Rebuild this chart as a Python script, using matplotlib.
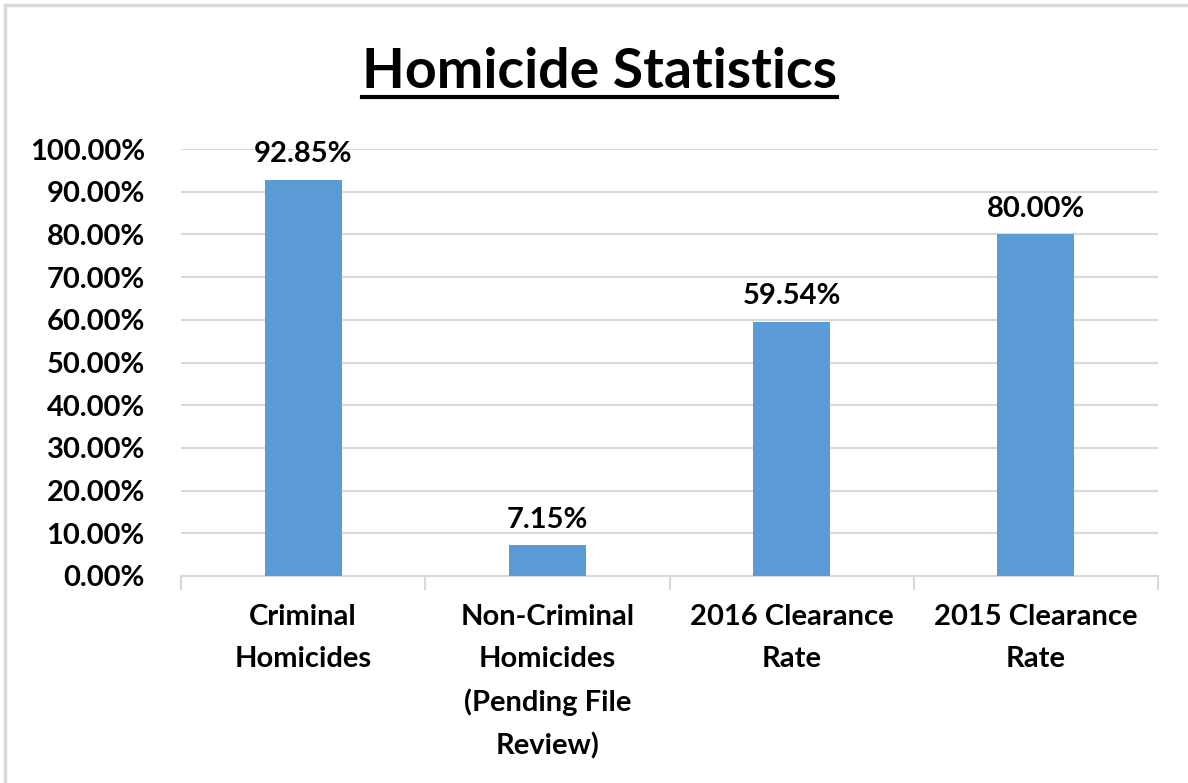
import numpy as np
import matplotlib
matplotlib.use("Agg")
import matplotlib.pyplot as plt
from matplotlib.lines import Line2D

categories = ["Criminal\nHomicides",
              "Non-Criminal\nHomicides\n(Pending File\nReview)",
              "2016 Clearance\nRate",
              "2015 Clearance\nRate"]
values = [92.85, 7.15, 59.54, 80.00]
yticks = [0, 10, 20, 30, 40, 50, 60, 70, 80, 90, 100]

plt.rcParams['font.family'] = ['Lato', 'DejaVu Sans']
plt.rcParams['font.weight'] = 'bold'

fig = plt.figure(figsize=(11.88, 7.83), dpi=100)
ax = fig.add_axes([181/1188, 1 - 576/783, (1158 - 181)/1188, (576 - 149)/783])

x = np.arange(len(categories))
bars = ax.bar(x, values, width=0.315, color='#5B9BD5', zorder=3)

for xi, v in zip(x, values):
    ax.text(xi, v + 3.0, f"{v:.2f}%", ha='center', va='bottom',
            fontsize=21, fontweight='bold', color='black')

ax.set_xlim(-0.5, len(categories) - 0.5)
ax.set_ylim(0, 100)
ax.set_yticks(yticks)
ax.set_yticklabels([f"{t:.2f}%" for t in yticks], fontsize=21, fontweight='bold')
ax.yaxis.grid(True, color='#D9D9D9', linewidth=1.5, zorder=0)
ax.tick_params(axis='y', length=0, pad=26)

ax.set_xticks(x)
ax.set_xticklabels(categories, fontsize=21, fontweight='bold', linespacing=1.75)
ax.set_xticks(np.arange(len(categories) + 1) - 0.5, minor=True)
ax.tick_params(axis='x', which='major', length=0, pad=20)
ax.tick_params(axis='x', which='minor', length=10, width=1.5, color='#D9D9D9')

for s in ['top', 'right', 'left']:
    ax.spines[s].set_visible(False)
ax.spines['bottom'].set_color('#D9D9D9')
ax.spines['bottom'].set_linewidth(1.5)

title = fig.text(599/1188, 1 - 72/783, "Homicide Statistics", ha='center', va='center',
                 fontsize=40, fontweight='bold')
# underline under title
fig.canvas.draw()
bb = title.get_window_extent()
fig.add_artist(Line2D([bb.x0 / 1188, bb.x1 / 1188], [(783 - 97) / 783] * 2,
                      color='black', linewidth=3))

# chart border (left and top edges visible)
fig.add_artist(Line2D([5/1188, 5/1188], [0, 1 - 5/783], color='#D9D9D9', linewidth=2.5))
fig.add_artist(Line2D([5/1188, 1], [1 - 5/783, 1 - 5/783], color='#D9D9D9', linewidth=2.5))

fig.savefig("out.png", dpi=100)
